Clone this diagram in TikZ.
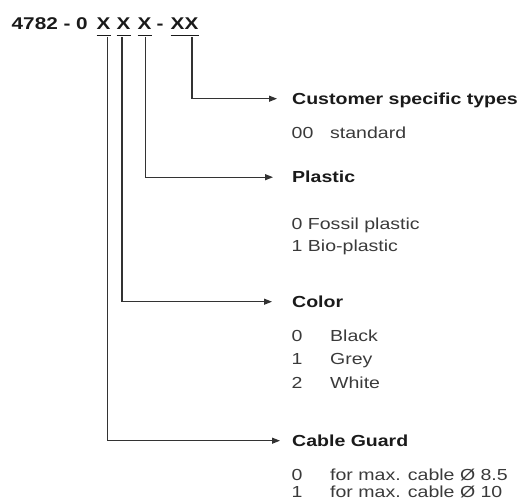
\documentclass[tikz,border=0pt]{standalone}
\usepackage{fontspec}
\setmainfont{Liberation Sans}[FakeStretch=1.22]
\usetikzlibrary{arrows.meta}
\definecolor{ink}{HTML}{1A1A1A}
\definecolor{bodytxt}{HTML}{3A3A3A}
\definecolor{wirecol}{HTML}{333333}
\tikzset{
  codepart/.style={inner sep=0pt, anchor=base west, font=\fontsize{17}{20}\selectfont\bfseries, text=ink},
  hdr/.style={inner sep=0pt, anchor=base west, text depth=0pt, font=\fontsize{16}{19}\selectfont\bfseries, text=ink},
  item/.style={inner sep=0pt, anchor=base west, font=\fontsize{16}{19}\selectfont, text=bodytxt},
  uline/.style={draw=ink, line width=1.5pt},
  wire/.style={draw=wirecol, line width=1.3pt, -{Triangle[length=8pt,width=6pt]}},
}
\begin{document}
\begin{tikzpicture}[x=1pt,y=-1pt]
\useasboundingbox (0,0) rectangle (521,502);
% code
\node[codepart] (pre) at (11.5,29.5) {4782 - 0};
\node[codepart] (x1) at (96.5,29.5) {X};
\node[codepart] (x2) at (116.5,29.5) {X};
\node[codepart] (x3) at (137.5,29.5) {X};
\node[codepart] (dash) at (156.5,29.5) {-};
\node[codepart] (xx) at (170.5,29.5) {XX};
\foreach \n in {x1,x2,x3,xx}
  \draw[uline] ([yshift=-6pt]\n.base west) -- ([yshift=-6pt]\n.base east);
% headers
\node[hdr] (cst) at (292,104.5) {Customer specific types};
\node[hdr] (pla) at (292,183) {Plastic};
\node[hdr] (col) at (292,307.5) {Color};
\node[hdr] (cgd) at (292,446.5) {Cable Guard};
% items
\node[item] (cn0) at (291.5,138.5) {00};
\node[item] (ct0) at (330,138.5) {standard};
\node[item] (pl0) at (291.5,230) {0 Fossil plastic};
\node[item] (pl1) at (291.5,251.5) {1 Bio-plastic};
\node[item] (con0) at (291.5,341) {0};
\node[item] (cot0) at (330,341) {Black};
\node[item] (con1) at (291.5,364.5) {1};
\node[item] (cot1) at (330,364.5) {Grey};
\node[item] (con2) at (291.5,388) {2};
\node[item] (cot2) at (330,388) {White};
\node[item] (gn0) at (291.5,480.5) {0};
\node[item] (gt0) at (330,480.5) {for max. cable Ø 8.5};
\node[item] (gn1) at (291.5,497.5) {1};
\node[item] (gt1) at (330,497.5) {for max. cable Ø 10};
% connectors
\draw[wire, shorten >=12pt] ([xshift=4pt,yshift=-7.5pt]x1.base) |- (cgd.west);
\draw[wire, shorten >=20pt] ([xshift=-1.5pt,yshift=-7.5pt]x2.base) |- (col.west);
\draw[wire, shorten >=19pt] ([xshift=1pt,yshift=-7.5pt]x3.base) |- (pla.west);
\draw[wire, shorten >=15pt] ([xshift=-6.5pt,yshift=-7.5pt]xx.base east) |- (cst.west);
\end{tikzpicture}
\end{document}
